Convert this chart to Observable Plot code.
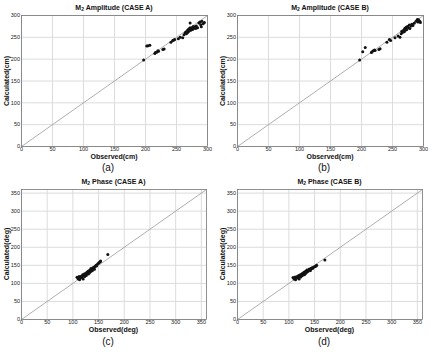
<!DOCTYPE html>
<html><head><meta charset="utf-8">
<script src="https://cdn.jsdelivr.net/npm/d3@7"></script>
<script src="https://cdn.jsdelivr.net/npm/@observablehq/plot@0.6"></script>
<style>
html,body{margin:0;padding:0;background:#fff;}
#root{position:relative;width:432px;height:352px;overflow:hidden;font-family:"Liberation Sans",Arial,sans-serif;}
.panel{position:absolute;}
.t{position:absolute;transform:translate(-50%,-50%);white-space:nowrap;color:#111;line-height:1;}
.title{font-size:7px;font-weight:bold;}
.lab{font-size:7px;font-weight:bold;}
.cap{font-size:10px;}
.rot{transform:translate(-50%,-50%) rotate(-90deg);}
sub{font-size:5px;vertical-align:-1px;line-height:0;}
</style>
</head><body><div id="root"></div>
<script>
// Amplitude (cm)
const ampObsA = [197,202,204,207,215,216,218,220,221,228,230,241,244,246,247,253,256,260,262,264,265,266,268,268,269,270,271,272,272,273,274,275,276,277,278,280,281,282,284,286,288,289,290,291,293,295];
const ampCalA = [198,230,231,232,213,215,216,219,218,222,223,239,243,244,245,247,250,249,256,260,262,258,266,261,268,264,270,272,283,266,269,272,268,275,271,274,270,276,272,283,285,279,274,287,281,284];
const ampObsB = [197,202,206,216,217,219,221,222,228,230,241,245,247,254,259,262,264,265,266,268,269,270,271,272,273,274,276,277,278,280,281,283,285,288,290,291,292,294,295];
const ampCalB = [198,217,227,215,217,219,221,220,222,224,239,245,243,249,253,250,258,264,261,267,263,271,266,273,268,275,272,278,270,276,280,277,282,287,291,285,290,287,284];
// Phase (deg)
const phObsA = [108,110,112,113,115,116,118,119,120,121,122,123,124,125,126,127,128,129,130,130,131,132,133,134,135,135,136,137,138,139,140,141,142,143,145,146,148,150,151,153,154,168];
const phCalA = [117,113,119,110,115,120,118,124,112,121,126,119,125,128,122,130,127,133,126,131,135,129,136,132,138,141,134,140,136,143,141,145,139,147,150,148,154,156,158,160,162,180];
const phObsB = [108,110,112,113,115,116,118,119,120,121,122,123,124,125,126,127,128,129,130,130,131,132,133,134,135,135,136,137,138,139,140,141,142,143,145,146,148,150,151,153,154,170];
const phCalB = [116,112,118,110,114,119,117,122,112,120,124,118,123,126,121,128,125,130,124,129,132,127,133,130,135,137,132,136,134,139,137,140,136,141,143,141,145,146,147,148,150,165];
// Axes
const ampDomain = [0,300];
const ampTicks = [0,50,100,150,200,250,300];
const phDomain = [0,360];
const phTicks = [0,50,100,150,200,250,300,350];

const panels = [
  {left:0, top:0, obs:ampObsA, cal:ampCalA, dom:ampDomain, ticks:ampTicks, mt:15, mb:30, mr:9,
   title:'M<sub>2</sub> Amplitude (CASE A)', xl:'Observed(cm)', yl:'Calculated(cm)', cap:'(a)'},
  {left:216, top:0, obs:ampObsB, cal:ampCalB, dom:ampDomain, ticks:ampTicks, mt:15, mb:30, mr:9,
   title:'M<sub>2</sub> Amplitude (CASE B)', xl:'Observed(cm)', yl:'Calculated(cm)', cap:'(b)'},
  {left:0, top:176, obs:phObsA, cal:phCalA, dom:phDomain, ticks:phTicks, mt:13, mb:33, mr:10,
   title:'M<sub>2</sub> Phase (CASE A)', xl:'Observed(deg)', yl:'Calculated(deg)', cap:'(c)'},
  {left:216, top:176, obs:phObsB, cal:phCalB, dom:phDomain, ticks:phTicks, mt:13, mb:33, mr:10,
   title:'M<sub>2</sub> Phase (CASE B)', xl:'Observed(deg)', yl:'Calculated(deg)', cap:'(d)'}
];

const root = document.getElementById('root');
function addText(cls, html, x, y){
  const d = document.createElement('div');
  d.className = 't ' + cls; d.innerHTML = html;
  d.style.left = x + 'px'; d.style.top = y + 'px';
  root.appendChild(d);
}
for (const p of panels) {
  const data = p.obs.map((o,i)=>({obs:o, cal:p.cal[i]}));
  const chart = Plot.plot({
    width:216, height:176, marginLeft:21, marginRight:p.mr, marginTop:p.mt, marginBottom:p.mb,
    style:{fontSize:"5.5px", fontFamily:"Liberation Sans, Arial, sans-serif", color:"#222", background:"white"},
    x:{domain:p.dom, label:null},
    y:{domain:p.dom, label:null},
    marks:[
      Plot.gridX(p.ticks, {stroke:"#dcdcdc", strokeOpacity:1}),
      Plot.gridY(p.ticks, {stroke:"#dcdcdc", strokeOpacity:1}),
      Plot.line(p.dom, {x:d=>d, y:d=>d, stroke:"#999", strokeWidth:0.8}),
      Plot.dot(data, {x:"obs", y:"cal", r:1.5, fill:"#111", stroke:null}),
      Plot.frame({stroke:"#777", strokeWidth:0.8}),
      Plot.axisX(p.ticks, {tickSize:0, tickPadding:0.5, label:null}),
      Plot.axisY(p.ticks, {tickSize:0, tickPadding:1.5, label:null})
    ]
  });
  const wrap = document.createElement('div');
  wrap.className = 'panel';
  wrap.style.left = p.left + 'px'; wrap.style.top = p.top + 'px';
  wrap.appendChild(chart);
  root.appendChild(wrap);
  const cx = p.left + 21 + (216 - 21 - p.mr)/2;
  const amp = p.mt === 15;
  addText('title', p.title, cx, p.top + (amp ? 7 : 5));
  addText('lab', p.xl, cx, p.top + (amp ? 155.5 : 152.5));
  addText('cap', p.cap, p.left + 108, p.top + (amp ? 167.5 : 165.5));
  addText('lab rot', p.yl, p.left + 6, p.top + p.mt + (176 - p.mt - p.mb)/2);
}
</script>
</body></html>
